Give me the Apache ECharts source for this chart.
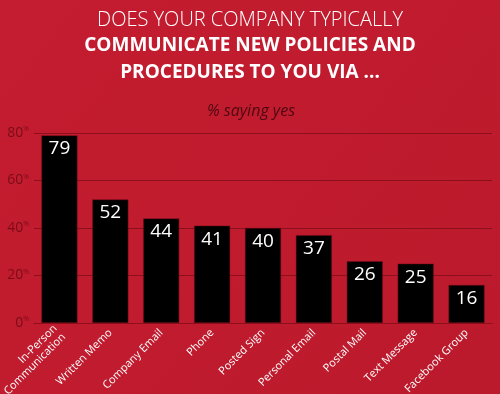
<!DOCTYPE html>
<html><head><meta charset="utf-8">
<script src="https://cdn.jsdelivr.net/npm/echarts@6/dist/echarts.min.js"></script>
<style>html,body{margin:0;padding:0;background:#c01b2e}#c{width:500px;height:394px}</style>
</head><body><div id="c"></div>
<script>
const categories = ["In-Person\nCommunication","Written Memo","Company Email","Phone","Posted Sign","Personal Email","Postal Mail","Text Message","Facebook Group"];
const values = [79,52,44,41,40,37,26,25,16];
const yTicks = [0,20,40,60,80];
const chart = echarts.init(document.getElementById('c'));
const catData = categories.map((c,i)=> i===0 ? {value:c,textStyle:{padding:[12,0,0,0]}} : c);
chart.setOption({
  backgroundColor: {type:'linear',x:0,y:0,x2:1,y2:1,colorStops:[{offset:0,color:'#c41c30'},{offset:0.5,color:'#c01b2e'},{offset:1,color:'#bb1a2c'}]},
  animation:false,
  title:[
    {text:'DOES YOUR COMPANY TYPICALLY',left:'center',top:5,textStyle:{color:'#fff',fontFamily:'Open Sans',fontWeight:300,fontSize:20}},
    {text:'COMMUNICATE NEW POLICIES AND',left:'center',top:31,textStyle:{color:'#fff',fontFamily:'Open Sans',fontWeight:'bold',fontSize:19}},
    {text:'PROCEDURES TO YOU VIA ...',left:'center',top:58,textStyle:{color:'#fff',fontFamily:'Open Sans',fontWeight:'bold',fontSize:19}},
    {text:'% saying yes',left:246,top:98,textAlign:'center',textStyle:{color:'#4e0810',fontFamily:'Open Sans',fontStyle:'italic',fontWeight:'normal',fontSize:16}}
  ],
  grid:{left:34,right:8,top:133,bottom:71,outerBoundsMode:'none',containLabel:false},
  xAxis:{type:'category',data:catData,
    axisLine:{show:true,lineStyle:{color:'#8e0f1c',width:1}},axisTick:{show:false},
    axisLabel:{rotate:45,interval:0,color:'#fff',fontFamily:'Open Sans',fontSize:11,margin:8,lineHeight:12}},
  yAxis:{type:'value',min:0,max:80,interval:20,
    axisLine:{show:false},axisTick:{show:false},
    splitLine:{lineStyle:{color:'#8e0f1c',width:1}},
    axisLabel:{margin:5,formatter:v=>'{n|'+v+'}{p|%}',rich:{n:{color:'#7a0d18',fontFamily:'Open Sans',fontSize:14},p:{color:'#7a0d18',fontFamily:'Open Sans',fontSize:7,verticalAlign:'top',padding:[0,0,8,0]}}}},
  series:[{type:'bar',data:values,barWidth:36,
    itemStyle:{color:'#000',borderColor:'#7a0d18',borderWidth:0.5},
    label:{show:true,position:'insideTop',distance:4,color:'#fff',fontFamily:'Open Sans',fontSize:19}}]
});
</script></body></html>
